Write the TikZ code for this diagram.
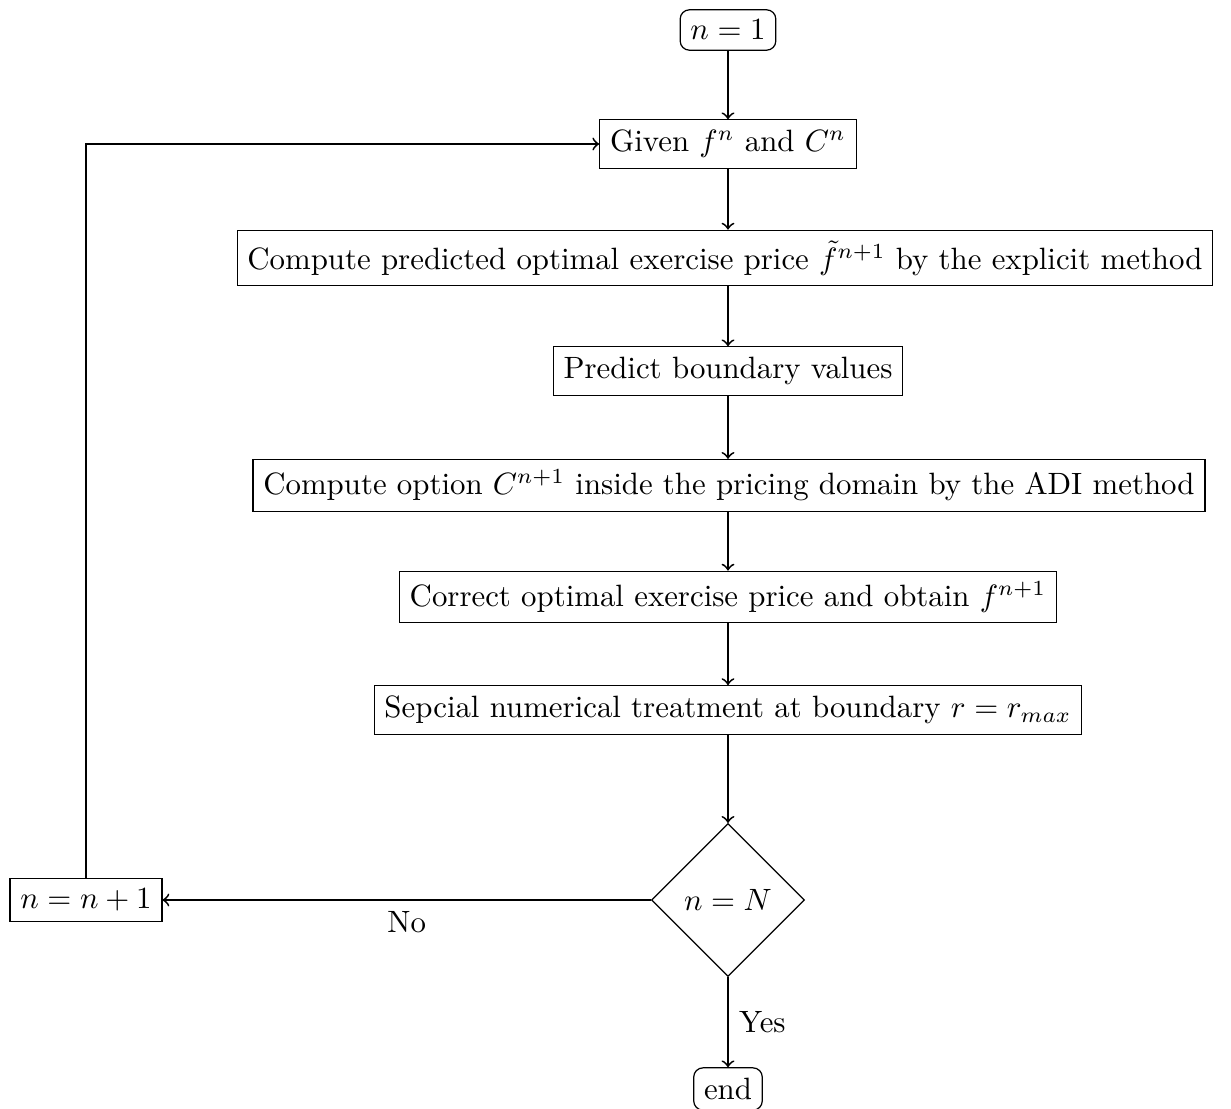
\documentclass[tikz,border=0pt]{standalone}
\usetikzlibrary{shapes.geometric}
\begin{document}
\begin{tikzpicture}[x=0.3243pt,y=-0.3243pt,
  box/.style={draw,rectangle},
  rbox/.style={draw,rectangle,rounded corners=3pt},
  decision/.style={draw,diamond,aspect=1,minimum width=49.6pt,minimum height=49.6pt,inner sep=0pt},
  arr/.style={semithick,->}]
\useasboundingbox (0,0) rectangle (1231,1109);
\node[rbox] (start) at (728,30) {$n=1$};
\node[box] (given) at (728,144) {Given $f^n$ and $C^n$};
\node[box] (pred) at (725,258) {Compute predicted optimal exercise price $\tilde{f}^{n+1}$ by the explicit method};
\node[box] (bound) at (728,371) {Predict boundary values};
\node[box] (adi) at (729,485.5) {Compute option $C^{n+1}$ inside the pricing domain by the ADI method};
\node[box] (corr) at (728,597) {Correct optimal exercise price and obtain $f^{n+1}$};
\node[box] (spec) at (728,710) {Sepcial numerical treatment at boundary $r=r_{max}$};
\node[decision] (dec) at (728,900) {$n=N$};
\node[box] (inc) at (86,900) {$n=n+1$};
\node[rbox] (end) at (728,1089) {end};
\draw[arr] (start) -- (given);
\draw[arr] (given) -- (given |- pred.north);
\draw[arr] (pred.south -| bound.north) -- (bound);
\draw[arr] (bound) -- (bound |- adi.north);
\draw[arr] (adi.south -| corr.north) -- (corr);
\draw[arr] (corr) -- (spec);
\draw[arr] (spec) -- (dec);
\draw[arr] (dec.west) -- node[below]{No} (inc.east);
\draw[arr] (dec.south) -- node[right]{Yes} (end.north);
\draw[arr] (inc.north) |- (given.west);
\end{tikzpicture}
\end{document}
